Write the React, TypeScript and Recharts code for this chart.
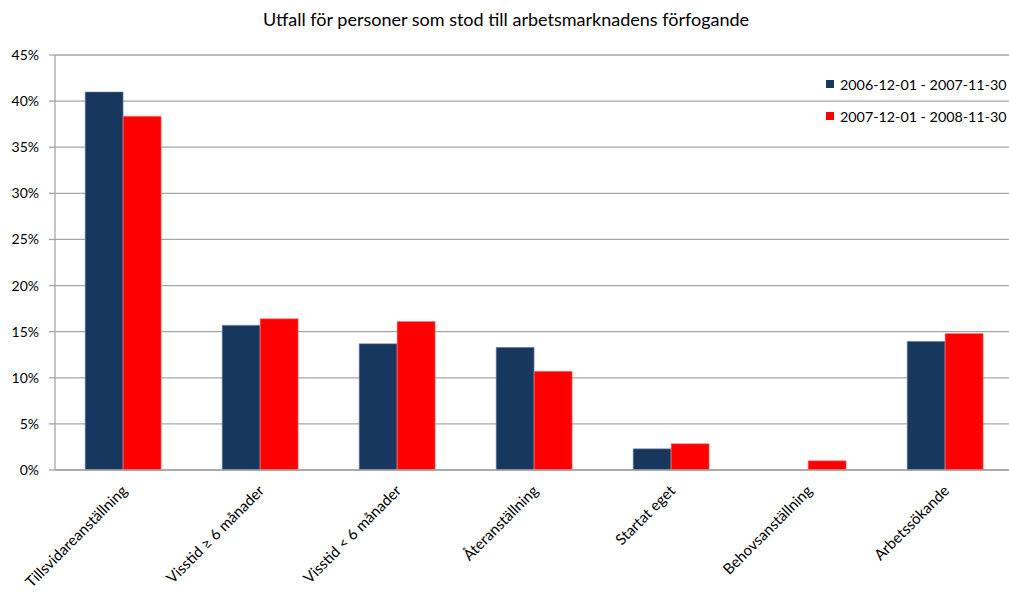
import React from 'react';
import { BarChart, Bar, XAxis, YAxis, CartesianGrid, Legend } from 'recharts';

const categories = [
  'Tillsvidareanställning',
  'Visstid ≥ 6 månader',
  'Visstid < 6 månader',
  'Återanställning',
  'Startat eget',
  'Behovsanställning',
  'Arbetssökande',
];
const period1 = [41.0, 15.7, 13.7, 13.3, 2.3, 0, 13.95];
const period2 = [38.35, 16.4, 16.1, 10.7, 2.85, 1.0, 14.8];
const seriesNames = ['2006-12-01 - 2007-11-30', '2007-12-01 - 2008-11-30'];
const yTicks = [0, 5, 10, 15, 20, 25, 30, 35, 40, 45];
const colors = ['#17375E', '#FF0000'];
const title = 'Utfall för personer som stod till arbetsmarknadens förfogande';

const data = categories.map((c, i) => ({ name: c, a: period1[i], b: period2[i] }));

const FONT = 'Lato, "Open Sans", sans-serif';

const XTick = (props: any) => {
  const { x, payload } = props;
  return (
    <g transform={`translate(${x + 1},${488})`}>
      <text
        transform="rotate(-45)"
        textAnchor="end"
        dy="0.35em"
        fontSize={15}
        fontFamily={FONT}
        fill="#000"
      >
        {payload.value}
      </text>
    </g>
  );
};

const LegendContent = () => (
  <div style={{ fontFamily: FONT, fontSize: 14.3, color: '#000' }}>
    {seriesNames.map((n, i) => (
      <div key={n} style={{ display: 'flex', alignItems: 'center', height: 16, marginBottom: i === 0 ? 16 : 0, whiteSpace: 'nowrap' }}>
        <span style={{ display: 'inline-block', width: 8, height: 8, background: colors[i], marginRight: 6 }} />
        <span>{n}</span>
      </div>
    ))}
  </div>
);

export default function App() {
  return (
    <div style={{ position: 'absolute', left: 0, top: 0, width: 1009, height: 592, overflow: 'hidden', background: '#fff' }}>
      <div
        style={{
          position: 'absolute',
          top: 8,
          left: 0,
          width: 1012,
          textAlign: 'center',
          fontFamily: FONT,
          fontSize: 18,
          color: '#000',
        }}
      >
        {title}
      </div>
      <BarChart
        width={1014}
        height={592}
        data={data}
        margin={{ top: 55, right: 0, left: 0, bottom: 0 }}
        barCategoryGap="22%"
        barGap={0}
      >
        <CartesianGrid vertical={false} stroke="#A6A6A6" strokeWidth={1.3} />
        <XAxis
          dataKey="name"
          height={122}
          interval={0}
          tickLine={false}
          axisLine={{ stroke: '#A6A6A6', strokeWidth: 1.5 }}
          tick={<XTick />}
        />
        <YAxis
          width={55}
          domain={[0, 45]}
          ticks={yTicks}
          tickFormatter={(v: number) => `${v}%`}
          tickSize={6}
          tickMargin={10}
          axisLine={{ stroke: '#A6A6A6', strokeWidth: 1.3 }}
          tickLine={{ stroke: '#A6A6A6', strokeWidth: 1.3 }}
          tick={{ fontSize: 14, fontFamily: FONT, fill: '#000' }}
        />
        <Legend
          verticalAlign="middle"
          align="center"
          layout="vertical"
          content={<LegendContent />}
          wrapperStyle={{ position: 'absolute', top: 76, left: 826, width: 200 }}
        />
        <Bar dataKey="a" name={seriesNames[0]} fill={colors[0]} stroke="#8EA0B8" strokeWidth={0.6} isAnimationActive={false} />
        <Bar dataKey="b" name={seriesNames[1]} fill={colors[1]} stroke="#FF8080" strokeWidth={0.6} isAnimationActive={false} />
      </BarChart>
    </div>
  );
}
